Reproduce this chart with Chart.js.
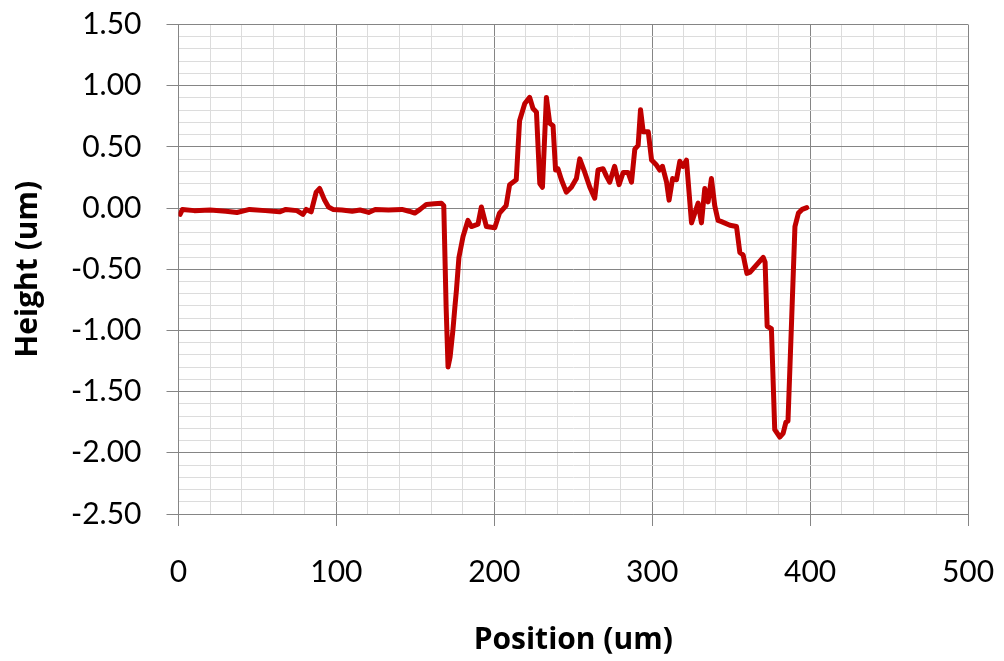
<!DOCTYPE html>
<html>
<head>
<meta charset="utf-8">
<script src="https://cdn.jsdelivr.net/npm/chart.js@4"></script>
<style>
  html, body { margin: 0; padding: 0; background: #fff; }
  #wrap { width: 1004px; height: 661px; }
</style>
</head>
<body>
<div id="wrap"><canvas id="profileChart" width="1004" height="661"></canvas></div>
<script>
// profile
const positions = [1, 2.5, 10, 20, 30, 37, 45, 55, 64, 68, 75, 78.8, 80.9, 84, 87.2, 89.4, 92.5, 95, 97.8,
    103.5, 110, 115, 120.4, 124.6, 133, 141.5, 146, 149.6, 153, 157, 162, 166.5, 168, 169.5, 170.7, 172,
    173.8, 175, 176, 177.6, 180.2, 183.3, 185.5, 189.7, 191.8, 195, 200.3, 203.3, 207.5, 209.7, 213.9,
    216, 219.3, 222.4, 224.5, 226.7, 228.8, 230.5, 233, 235.1, 237.2, 238.8, 240.3, 242.5, 245.6, 248.8,
    252, 254.1, 257.3, 260.5, 263.6, 265.7, 268.9, 271, 273.1, 276.2, 279, 281.6, 284.7, 286.9, 289,
    291.1, 292.6, 294.3, 297.5, 299.6, 302.7, 304.8, 306.5, 309.1, 310.7, 312.9, 315.4, 317.5, 319.5,
    321.7, 324.9, 329.1, 331.2, 333.3, 335.4, 337.5, 339.6, 341.7, 343.9, 349.2, 353.4, 355.5, 357.6,
    360, 362, 370.3, 371.5, 372.8, 375.5, 377.6, 380.8, 382.9, 384.7, 386, 388.3, 390.4, 392.6, 395, 397.9];
const heights = [-0.051, -0.011, -0.021, -0.016, -0.026, -0.036, -0.011, -0.021, -0.031, -0.011, -0.021, -0.051,
    -0.011, -0.031, 0.130, 0.160, 0.065, 0.009, -0.011,
    -0.016, -0.026, -0.016, -0.036, -0.011, -0.016, -0.011, -0.026, -0.041, -0.011, 0.030, 0.035, 0.040, 0.020,
    -0.815, -1.298, -1.217,
    -0.996, -0.815, -0.674, -0.403, -0.232, -0.101, -0.151, -0.131, 0.009, -0.151, -0.161, -0.041, 0.020, 0.191, 0.231,
    0.713, 0.854, 0.904, 0.814, 0.784, 0.201, 0.170, 0.904, 0.693, 0.673, 0.311, 0.321, 0.231, 0.130, 0.170,
    0.241, 0.402, 0.291, 0.170, 0.080, 0.311, 0.321, 0.261, 0.211, 0.341, 0.191, 0.291, 0.291, 0.211, 0.482,
    0.512, 0.804, 0.623, 0.623, 0.392, 0.351, 0.311, 0.341, 0.211, 0.065, 0.241, 0.231, 0.382, 0.341,
    0.392, -0.121, 0.040, -0.121, 0.160, 0.050, 0.241, 0.020, -0.101, -0.111, -0.141, -0.151, -0.363, -0.383,
    -0.534, -0.524, -0.403, -0.443, -0.966, -0.986, -1.811, -1.871, -1.841, -1.750, -1.740, -0.916, -0.151, -0.041,
    -0.011, 0.004];

const xMin = 0, xMax = 500, xMajor = 100, xMinor = 20;
const yMin = -2.5, yMax = 1.5, yMajor = 0.5, yMinor = 0.1;

const points = positions.map((p, i) => ({ x: p, y: heights[i] }));

const majorColor = '#858585';
const minorColor = '#dcdcdc';
const tickFont = 'Lato, "Open Sans", sans-serif';
const titleFont = '"Open Sans", Lato, sans-serif';

function isMajorX(v) { return Math.round(v) % xMajor === 0; }
function isMajorY(v) { return Math.round(v * 100) % Math.round(yMajor * 100) === 0; }

new Chart(document.getElementById('profileChart'), {
    type: 'scatter',
    data: {
        datasets: [{
            data: points,
            showLine: true,
            borderColor: '#c00000',
            borderWidth: 5,
            pointRadius: 0,
            tension: 0,
            borderJoinStyle: 'round',
            borderCapStyle: 'round'
        }]
    },
    options: {
        responsive: false,
        animation: false,
        layout: { padding: 0 },
        plugins: { legend: { display: false }, tooltip: { enabled: false } },
        scales: {
            x: {
                type: 'linear',
                min: xMin,
                max: xMax,
                // fix the plot box to where it sits in the picture
                afterFit: scale => {
                    scale.height = 147;
                    scale.paddingLeft = 0;
                    scale.paddingRight = 36;
                },
                ticks: {
                    stepSize: xMinor,
                    autoSkip: false,
                    maxRotation: 0,
                    padding: 28,
                    color: '#000',
                    font: { family: tickFont, size: 30 },
                    callback: v => isMajorX(v) ? String(Math.round(v)) : ''
                },
                grid: {
                    color: ctx => isMajorX(ctx.tick.value) ? majorColor : minorColor,
                    tickColor: ctx => isMajorX(ctx.tick.value) ? majorColor : 'rgba(0,0,0,0)',
                    tickLength: 12,
                    lineWidth: 1
                },
                border: { color: majorColor },
                title: {
                    display: true,
                    text: 'Position (um)',
                    color: '#000',
                    font: { family: titleFont, size: 30, weight: 'bold' },
                    padding: { top: 3, bottom: 3 }
                }
            },
            y: {
                type: 'linear',
                min: yMin,
                max: yMax,
                afterFit: scale => {
                    scale.width = 178.5;
                    scale.paddingTop = 24.5;
                    scale.paddingBottom = 0;
                },
                ticks: {
                    stepSize: yMinor,
                    autoSkip: false,
                    padding: 25,
                    color: '#000',
                    font: { family: tickFont, size: 30 },
                    callback: v => isMajorY(v) ? v.toFixed(2) : ''
                },
                grid: {
                    color: ctx => isMajorY(ctx.tick.value) ? majorColor : minorColor,
                    tickColor: ctx => isMajorY(ctx.tick.value) ? majorColor : 'rgba(0,0,0,0)',
                    tickLength: 12,
                    lineWidth: 1
                },
                border: { color: majorColor },
                title: {
                    display: true,
                    text: 'Height (um)',
                    color: '#000',
                    font: { family: titleFont, size: 30, weight: 'bold' },
                    padding: { top: 10, bottom: 0 }
                }
            }
        }
    }
});
</script>
</body>
</html>
